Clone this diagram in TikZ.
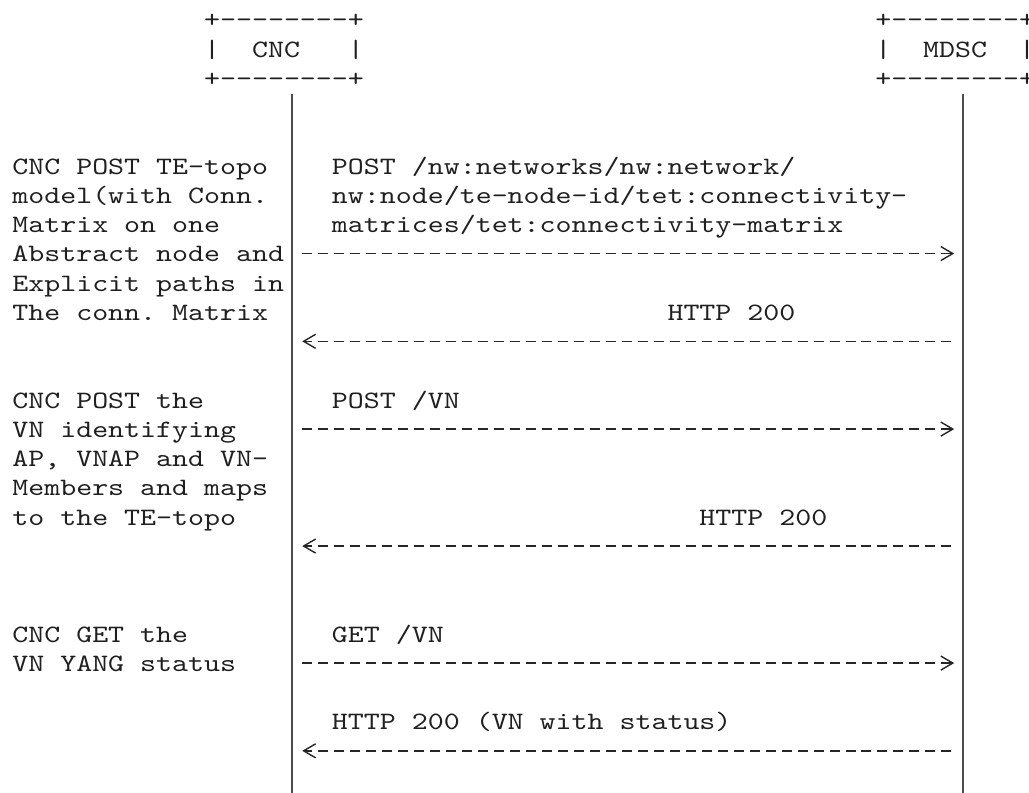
\documentclass[tikz,border=0pt]{standalone}
\usepackage{fontspec}
% typewriter face, widened so that one character cell is 15.98pt
\setmonofont[FakeStretch=1.2175]{lmmono10-regular.otf}
\usetikzlibrary{arrows.meta}

\tikzset{
  ascii/.style={font=\ttfamily\fontsize{25pt}{29.25pt}\selectfont,
    inner sep=0pt, outer sep=0pt, anchor=base west, text=black!88},
  lifeline/.style={draw=black!70, line width=1.9pt},
  msg/.style={draw=black!85, line width=1.4pt, dash pattern=on 10pt off 5.98pt},
  msgright/.style={msg, -{Straight Barb[length=12pt,width=14pt]},
    shorten <=10.2pt, shorten >=8.97pt},
  msgleft/.style={msg, -{Straight Barb[length=12pt,width=14pt]},
    shorten <=11.77pt, shorten >=10.2pt},
}

\begin{document}
\begin{tikzpicture}[x=15.98pt, y=-29.25pt]
% one unit = one character cell (column) / one text row
\useasboundingbox (-0.773,-0.709) rectangle (63.62,26.37);

% ---- CNC box ----
\node[ascii] (cncTop)   at (12,0.246) {+--------+};
\node[ascii] (cncLeft)  at (12,1.246) {|};
\node[ascii] (cnc)      at (15,1.246) {CNC};
\node[ascii] (cncRight) at (21,1.246) {|};
\node[ascii] (cncBot)   at (12,2.246) {+--------+};

% ---- MDSC box ----
\node[ascii] (mdscTop)   at (54,0.246) {+--------+};
\node[ascii] (mdscLeft)  at (54,1.246) {|};
\node[ascii] (mdsc)      at (57,1.246) {MDSC};
\node[ascii] (mdscRight) at (63,1.246) {|};
\node[ascii] (mdscBot)   at (54,2.246) {+--------+};

% ---- lifelines ----
\coordinate (cncEnd)  at (17.5,26.6);
\coordinate (mdscEnd) at (59.5,26.6);
\draw[lifeline] ([yshift=-7.6pt]cncBot.south -| cncEnd) -- (cncEnd);
\draw[lifeline] ([yshift=-7.6pt]mdscBot.south -| mdscEnd) -- (mdscEnd);

% message anchor points on both lifelines
\foreach \r in {8,11,14,18,22,25}{
  \coordinate (L\r) at (17.5,\r-0.04);
  \coordinate (R\r) at (59.5,\r-0.04);
}

% ---- step 1: TE topology with connectivity matrix ----
\node[ascii] (d5)  at (0,5.246)  {CNC POST TE-topo};
\node[ascii] (d6)  at (0,6.246)  {model(with Conn.};
\node[ascii] (d7)  at (0,7.246)  {Matrix on one};
\node[ascii] (d8)  at (0,8.246)  {Abstract node and};
\node[ascii] (d9)  at (0,9.246)  {Explicit paths in};
\node[ascii] (d10) at (0,10.246) {The conn. Matrix};

\node[ascii] (p5)  at (20,5.246) {POST /nw:networks/nw:network/};
\node[ascii] (p6)  at (20,6.246) {nw:node/te-node-id/tet:connectivity-};
\node[ascii] (p7)  at (20,7.246) {matrices/tet:connectivity-matrix};
\draw[msgright] (L8) -- (R8);
\node[ascii] (ok10) at (41,10.246) {HTTP 200};
\draw[msgleft] (R11) -- (L11);

% ---- step 2: VN creation ----
\node[ascii] (d13) at (0,13.246) {CNC POST the};
\node[ascii] (d14) at (0,14.246) {VN identifying};
\node[ascii] (d15) at (0,15.246) {AP, VNAP and VN-};
\node[ascii] (d16) at (0,16.246) {Members and maps};
\node[ascii] (d17) at (0,17.246) {to the TE-topo};

\node[ascii] (p13) at (20,13.246) {POST /VN};
\draw[msgright] (L14) -- (R14);
\node[ascii] (ok17) at (43,17.246) {HTTP 200};
\draw[msgleft] (R18) -- (L18);

% ---- step 3: VN status ----
\node[ascii] (d21) at (0,21.246) {CNC GET the};
\node[ascii] (d22) at (0,22.246) {VN YANG status};

\node[ascii] (g21) at (20,21.246) {GET /VN};
\draw[msgright] (L22) -- (R22);
\node[ascii] (ok24) at (20,24.246) {HTTP 200 (VN with status)};
\draw[msgleft] (R25) -- (L25);
\end{tikzpicture}
\end{document}
